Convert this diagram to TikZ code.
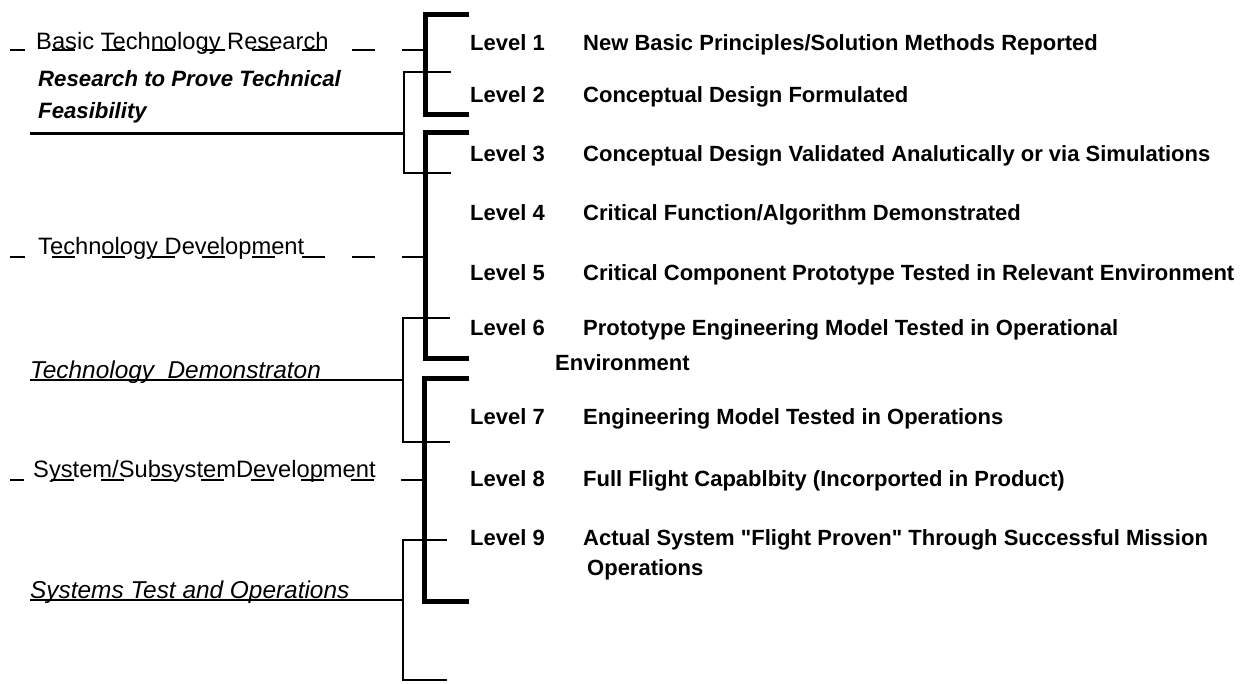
\documentclass[tikz,border=0pt]{standalone}
\usepackage{fontspec}
\setmainfont{Liberation Sans}[Ligatures=TeXOff]
\begin{document}
\begin{tikzpicture}[x=1pt,y=-1pt,
  thickbr/.style={line width=5pt},
  thinbr/.style={line width=2pt},
  lead/.style={line width=2.6pt, dash pattern=on 23pt off 27pt},
  solidlead/.style={line width=2pt},
  lvl/.style={anchor=base west, inner sep=0pt, font=\fontsize{22}{26}\selectfont\bfseries},
  lbl/.style={anchor=base west, inner sep=0pt, font=\fontsize{23.7}{28}\selectfont},
  ilbl/.style={anchor=base west, inner sep=0pt, font=\fontsize{22.2}{32}\selectfont\bfseries\itshape},
  jlbl/.style={anchor=base west, inner sep=0pt, font=\fontsize{24.4}{28}\selectfont\itshape},
]
\useasboundingbox[fill=white] (0,0) rectangle (1244,683);

% thick brackets
\coordinate (ta1) at (469,14);  \coordinate (ta2) at (425,14);
\coordinate (ta3) at (425,114); \coordinate (ta4) at (469,114);
\coordinate (tb1) at (469,132); \coordinate (tb2) at (425,132);
\coordinate (tb3) at (425,358); \coordinate (tb4) at (469,358);
\coordinate (tc1) at (469,378); \coordinate (tc2) at (424,378);
\coordinate (tc3) at (424,601); \coordinate (tc4) at (469,601);
\draw[thickbr] (ta1) -- (ta2) -- (ta3) -- (ta4);
\draw[thickbr] (tb1) -- (tb2) -- (tb3) -- (tb4);
\draw[thickbr] (tc1) -- (tc2) -- (tc3) -- (tc4);

% thin brackets
\coordinate (sa1) at (451,72);  \coordinate (sa2) at (404,72);
\coordinate (sa3) at (404,173); \coordinate (sa4) at (451,173);
\coordinate (sb1) at (450,318); \coordinate (sb2) at (403,318);
\coordinate (sb3) at (403,442); \coordinate (sb4) at (450,442);
\coordinate (sc1) at (447,540); \coordinate (sc2) at (403,540);
\coordinate (sc3) at (403,680); \coordinate (sc4) at (447,680);
\draw[thinbr] (sa1) -- (sa2) -- (sa3) -- (sa4);
\draw[thinbr] (sb1) -- (sb2) -- (sb3) -- (sb4);
\draw[thinbr] (sc1) -- (sc2) -- (sc3) -- (sc4);

% dashed leads to thick brackets
\coordinate (da) at (425,50);  \coordinate (da0) at (10,50);
\coordinate (db) at (425,257); \coordinate (db0) at (10,257);
\coordinate (dc) at (424,480); \coordinate (dc0) at (10,480);
\draw[lead] (da) -- (da0);
\draw[lead] (db) -- (db0);
\draw[lead] (dc) -- (dc0);

% solid leads to thin brackets
\coordinate (la) at (404,133); \coordinate (la0) at (30,133);
\coordinate (lb) at (403,380); \coordinate (lb0) at (30,380);
\coordinate (lc) at (403,600); \coordinate (lc0) at (30,600);
\draw[solidlead, line width=3pt] (la) -- (la0);
\draw[solidlead] (lb) -- (lb0);
\draw[solidlead] (lc) -- (lc0);

% left labels
\node[lbl] (basic) at (36,49) {Basic Technology Research};
\node[ilbl] (rp1) at (38,86) {Research to Prove Technical};
\node[ilbl] (rp2) at (38,118) {Feasibility};
\node[lbl] (tdev) at (38,254) {Technology Development};
\node[jlbl] (tdem) at (30,378) {Technology\ \ Demonstraton};
\node[lbl] (sdev) at (33,477) {System/SubsystemDevelopment};
\node[jlbl] (sto) at (30,598) {Systems Test and Operations};

% levels
\node[lvl] (l1) at (470,50) {Level 1};
\node[lvl] (d1) at (583,50) {New Basic Principles/Solution Methods Reported};
\node[lvl] (l2) at (470,102) {Level 2};
\node[lvl] (d2) at (583,102) {Conceptual Design Formulated};
\node[lvl] (l3) at (470,161) {Level 3};
\node[lvl] (d3) at (583,161) {Conceptual Design Validated Analutically or via Simulations};
\node[lvl] (l4) at (470,220) {Level 4};
\node[lvl] (d4) at (583,220) {Critical Function/Algorithm Demonstrated};
\node[lvl] (l5) at (470,280) {Level 5};
\node[lvl] (d5) at (583,280) {Critical Component Prototype Tested in Relevant Environment};
\node[lvl] (l6) at (470,335) {Level 6};
\node[lvl] (d6) at (583,335) {Prototype Engineering Model Tested in Operational};
\node[lvl] (d6b) at (555,370) {Environment};
\node[lvl] (l7) at (470,424) {Level 7};
\node[lvl] (d7) at (583,424) {Engineering Model Tested in Operations};
\node[lvl] (l8) at (470,486) {Level 8};
\node[lvl] (d8) at (583,486) {Full Flight Capablbity (Incorported in Product)};
\node[lvl] (l9) at (470,545) {Level 9};
\node[lvl] (d9) at (583,545) {Actual System "Flight Proven" Through Successful Mission};
\node[lvl] (d9b) at (587,575) {Operations};
\end{tikzpicture}
\end{document}
